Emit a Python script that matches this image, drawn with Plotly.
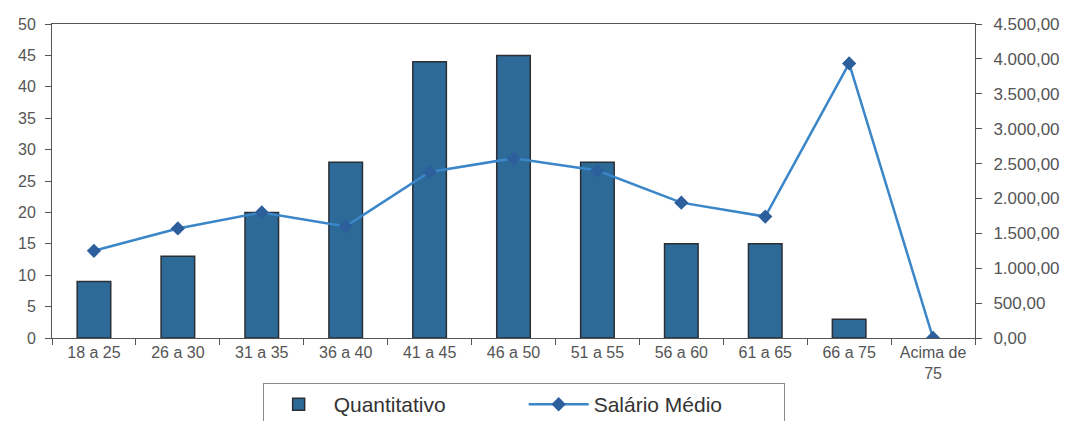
import plotly.graph_objects as go

categorias = ["18 a 25", "26 a 30", "31 a 35", "36 a 40", "41 a 45", "46 a 50",
              "51 a 55", "56 a 60", "61 a 65", "66 a 75", "Acima de<br>75"]
quantitativo = [9, 13, 20, 28, 44, 45, 28, 15, 15, 3, 0]
salario_medio = [1250, 1570, 1800, 1600, 2380, 2575, 2400, 1940, 1740, 3935, 0]

left_ticks = [0, 5, 10, 15, 20, 25, 30, 35, 40, 45, 50]
right_ticks = [0, 500, 1000, 1500, 2000, 2500, 3000, 3500, 4000, 4500]

bar_outline = [1.5 if v > 0 else 0 for v in quantitativo]

fig = go.Figure()
fig.add_trace(go.Bar(
    x=categorias, y=quantitativo, name="Quantitativo",
    marker=dict(color="#2D6A97", line=dict(color="#2A2F36", width=bar_outline)),
    yaxis="y",
))
fig.add_trace(go.Scatter(
    x=categorias, y=salario_medio, name="Salário Médio", mode="lines+markers",
    line=dict(color="#3A86C8", width=2.5),
    marker=dict(symbol="diamond", size=11, color="#2C5F9C"),
    yaxis="y2",
))

axis_font = dict(family="Liberation Sans, Arial, sans-serif", size=16, color="#555555")
right_font = dict(family="Liberation Sans, Arial, sans-serif", size=17, color="#555555")

fig.update_layout(
    width=1076, height=421,
    margin=dict(l=44, r=109, t=16, b=91),
    paper_bgcolor="white", plot_bgcolor="white",
    separators=",.",
    bargap=0.6,
    showlegend=True,
    legend=dict(
        orientation="h", x=0.511, xanchor="center",
        yref="container", y=0.109, yanchor="top",
        font=dict(family="Liberation Sans, Arial, sans-serif", size=21, color="#333333"),
        bordercolor="#8A8A8A", borderwidth=1, bgcolor="white",
        entrywidth=185, itemwidth=60,
    ),
    xaxis=dict(
        type="category", range=[-0.5, 10.5], tickfont=axis_font, showline=True,
        linecolor="#555555", linewidth=1, mirror=True, ticks="outside",
        tickson="boundaries", ticklen=6, tickcolor="#555555", showgrid=False,
        zeroline=False, automargin=False,
    ),
    yaxis=dict(
        range=[0, 50], tickvals=left_ticks, tickfont=axis_font, showline=True,
        linecolor="#555555", linewidth=1, ticks="outside", ticklen=6,
        tickcolor="#555555", showgrid=False, zeroline=False, automargin=False,
        ticklabelstandoff=6,
    ),
    yaxis2=dict(
        range=[0, 4500], tickvals=right_ticks, tickformat=",.2f", tickfont=right_font,
        overlaying="y", side="right", showline=True, linecolor="#555555",
        linewidth=1, ticks="outside", ticklen=6, tickcolor="#555555",
        showgrid=False, zeroline=False, automargin=False, ticklabelstandoff=8,
    ),
)

fig.write_html("out.html")
